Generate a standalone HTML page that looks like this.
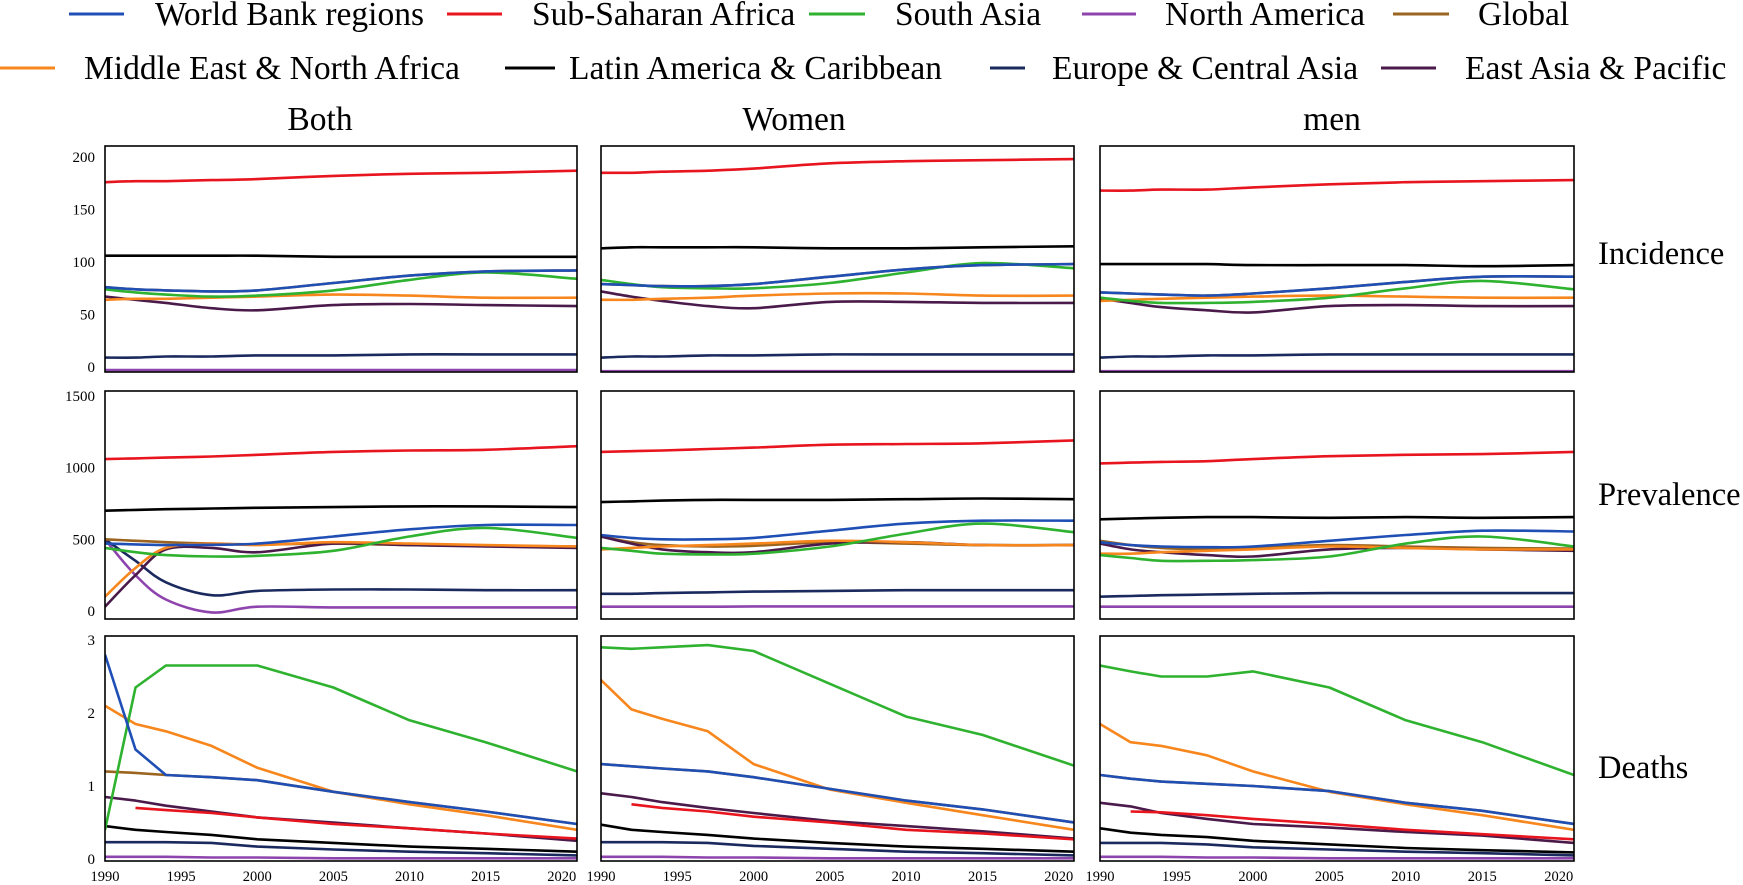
<!DOCTYPE html>
<html><head><meta charset="utf-8"><style>
body{margin:0;background:#fff;}
svg{display:block;font-family:"Liberation Serif",serif;}
</style></head><body>
<svg id="chart" width="1743" height="885" viewBox="0 0 1743 885"></svg>
<script>
const years = [1990,1992,1994,1997,2000,2005,2010,2015,2021];
const seriesKeys = ["WB","SSA","SAS","NAM","GLB","MENA","LAC","ECA","EAP"];
const seriesLabels = ["World Bank regions","Sub-Saharan Africa","South Asia","North America","Global","Middle East & North Africa","Latin America & Caribbean","Europe & Central Asia","East Asia & Pacific"];
const sexLabels = ["Both","Women","men"];
const measureLabels = ["Incidence","Prevalence","Deaths"];
const incTicks = [0,50,100,150,200];
const prevTicks = [0,500,1000,1500];
const deathTicks = [0,1,2,3];
const xTicks = [1990,1995,2000,2005,2010,2015,2020];

const incBoth = {
 SSA:[176,177,177,178,179,182,184,185,187], LAC:[106,106,106,106,106,105,105,105,105],
 WB:[76,74,73,72,73,80,87,91,92], SAS:[74,71,69,67,68,73,83,90,84],
 MENA:[64,65,65,66,67,69,68,66,66], EAP:[67,64,61,56,54,59,60,59,58],
 GLB:[76,74,73,72,73,80,87,91,92], ECA:[9,9,10,10,11,11,12,12,12], NAM:[-3,-3,-3,-3,-3,-3,-3,-3,-3]};
const incWomen = {
 SSA:[185,185,186,187,189,194,196,197,198], LAC:[113,114,114,114,114,113,113,114,115],
 WB:[79,78,77,77,79,86,93,97,98], SAS:[83,79,76,75,75,80,90,99,94],
 MENA:[64,64,65,66,68,70,70,68,68], EAP:[72,67,63,58,56,62,62,61,61],
 GLB:[79,78,77,77,79,86,93,97,98], ECA:[9,10,10,11,11,12,12,12,12], NAM:[-4,-4,-4,-4,-4,-4,-4,-4,-4]};
const incMen = {
 SSA:[168,168,169,169,171,174,176,177,178], LAC:[98,98,98,98,97,97,97,96,97],
 WB:[71,70,69,68,70,75,81,86,86], SAS:[66,63,61,61,62,66,75,82,74],
 MENA:[63,64,65,66,67,68,67,66,66], EAP:[65,61,57,54,52,58,59,58,58],
 GLB:[71,70,69,68,70,75,81,86,86], ECA:[9,10,10,11,11,12,12,12,12], NAM:[-4,-4,-4,-4,-4,-4,-4,-4,-4]};
const prevBoth = {
 SSA:[1060,1065,1070,1078,1090,1110,1120,1125,1150], LAC:[700,705,710,715,720,725,730,730,725],
 WB:[470,465,460,462,470,520,570,600,600], SAS:[440,410,390,380,385,420,520,580,510],
 MENA:[100,300,440,470,460,480,470,460,450], EAP:[30,250,430,440,410,470,460,450,440],
 GLB:[500,490,480,470,465,470,460,455,450], ECA:[500,350,200,110,140,150,150,145,145],
 NAM:[500,250,80,-10,30,25,25,25,25]};
const prevWomen = {
 SSA:[1110,1115,1120,1130,1140,1160,1165,1170,1190], LAC:[760,765,770,775,775,775,780,785,780],
 WB:[530,510,500,500,510,560,610,630,630], SAS:[440,420,400,395,400,450,540,610,550],
 MENA:[430,440,450,460,470,490,480,460,460], EAP:[520,470,430,410,410,470,480,460,460],
 GLB:[520,480,460,450,455,480,470,460,460], ECA:[120,120,125,130,135,140,145,145,145],
 NAM:[30,30,30,30,32,32,32,32,32]};
const prevMen = {
 SSA:[1030,1035,1040,1045,1060,1080,1090,1095,1110], LAC:[640,645,650,655,655,650,655,650,655],
 WB:[480,460,450,445,450,490,530,560,555], SAS:[390,370,350,350,355,380,470,520,450],
 MENA:[400,400,410,420,430,450,440,430,430], EAP:[470,430,410,390,380,430,440,430,420],
 GLB:[490,460,440,430,440,460,450,440,435], ECA:[100,105,110,115,120,125,125,125,125],
 NAM:[30,30,30,30,30,30,30,30,30]};
const deathBoth = {
 SAS:[0.4,2.35,2.65,2.65,2.65,2.35,1.9,1.6,1.2], WB:[2.8,1.5,1.15,1.12,1.08,0.92,0.78,0.65,0.48],
 GLB:[1.2,1.18,1.15,1.12,1.08,0.92,0.78,0.65,0.48], MENA:[2.1,1.85,1.75,1.55,1.25,0.92,0.75,0.6,0.4],
 EAP:[0.85,0.8,0.73,0.65,0.57,0.5,0.42,0.35,0.25], SSA:[null,0.7,0.67,0.63,0.57,0.48,0.42,0.35,0.28],
 LAC:[0.45,0.4,0.37,0.33,0.27,0.22,0.17,0.14,0.1], ECA:[0.23,0.23,0.23,0.22,0.17,0.13,0.1,0.08,0.05],
 NAM:[0.03,0.03,0.03,0.02,0.02,0.01,0.01,0.01,0.01]};
const deathWomen = {
 SAS:[2.9,2.88,2.9,2.93,2.85,2.4,1.95,1.7,1.28], WB:[1.3,1.27,1.24,1.2,1.12,0.96,0.8,0.68,0.5],
 GLB:[1.3,1.27,1.24,1.2,1.12,0.96,0.8,0.68,0.5], MENA:[2.45,2.05,1.92,1.75,1.3,0.95,0.77,0.6,0.4],
 EAP:[0.9,0.85,0.78,0.7,0.63,0.52,0.45,0.38,0.28], SSA:[null,0.75,0.7,0.65,0.58,0.5,0.4,0.35,0.27],
 LAC:[0.47,0.4,0.37,0.33,0.28,0.22,0.17,0.14,0.1], ECA:[0.23,0.23,0.23,0.22,0.18,0.14,0.1,0.08,0.05],
 NAM:[0.03,0.03,0.03,0.02,0.02,0.01,0.01,0.01,0.01]};
const deathMen = {
 SAS:[2.65,2.57,2.5,2.5,2.57,2.35,1.9,1.6,1.15], WB:[1.15,1.1,1.06,1.03,1.0,0.93,0.77,0.66,0.48],
 GLB:[1.15,1.1,1.06,1.03,1.0,0.93,0.77,0.66,0.48], MENA:[1.85,1.6,1.55,1.42,1.2,0.92,0.75,0.6,0.4],
 EAP:[0.77,0.72,0.63,0.55,0.48,0.43,0.37,0.32,0.22], SSA:[null,0.65,0.64,0.6,0.55,0.48,0.4,0.34,0.27],
 LAC:[0.42,0.36,0.33,0.3,0.25,0.2,0.15,0.12,0.09], ECA:[0.22,0.22,0.22,0.2,0.16,0.13,0.1,0.08,0.05],
 NAM:[0.03,0.03,0.03,0.02,0.02,0.01,0.01,0.01,0.01]};

const colors = {WB:"#1f4fb5",SSA:"#e8141e",SAS:"#2fb22f",NAM:"#8e44ad",GLB:"#9b6420",MENA:"#f7861d",LAC:"#000000",ECA:"#1b2a5e",EAP:"#4a1a4a"};
const drawOrder = ["NAM","ECA","LAC","GLB","EAP","MENA","SSA","SAS","WB"];
const colX = [[105,577],[601,1074],[1100,1574]];
const rowY = [[146,372],[391,619],[636,861]];
const yMaps = [ [0,367,200,157], [0,611,1500,396], [0,859,3,640] ];
const tickSets = [incTicks, prevTicks, deathTicks];
const grid = [[incBoth,incWomen,incMen],[prevBoth,prevWomen,prevMen],[deathBoth,deathWomen,deathMen]];

const NS = "http://www.w3.org/2000/svg";
const svg = document.getElementById("chart");
function mk(tag, attrs, parent){ const e=document.createElementNS(NS,tag); for(const k in attrs) e.setAttribute(k,attrs[k]); (parent||svg).appendChild(e); return e; }

// [lineX1, lineX2, textX, lineY, baselineY]
const legPos = [[69,124,155,14,25],[447,502,532,14,25],[809,865,895,14,25],[1082,1136,1165,14,25],[1393,1449,1478,14,25],
                [0,55,84,68,79],[505,555,569,68,79],[990,1025,1052,68,79],[1381,1436,1465,68,79]];
const legend = mk("g",{});


seriesKeys.forEach((k,i)=>{
  const p = legPos[i];
  const g = mk("g",{},legend);
  
  
  mk("line",{x1:p[0],x2:p[1],y1:p[3],y2:p[3],stroke:colors[k],"stroke-width":3},g);
  const t = mk("text",{x:p[2],y:p[4],"font-size":33.5,fill:"#000"},g);
  t.textContent = seriesLabels[i];
});

const titleX = [320,794,1332];
sexLabels.forEach((s,i)=>{
  const t = mk("text",{x:titleX[i],y:130,"font-size":33.5,"text-anchor":"middle"});
  
  
  t.textContent = s;
});
const rowLabelY = [253,494,767];
measureLabels.forEach((m,i)=>{
  const t = mk("text",{x:1598,y:rowLabelY[i]+11,"font-size":32.5});
  
  
  t.textContent = m;
});

function smoothPath(pts, linear){
  let d="";
  for(let i=0;i<pts.length;i++){
    const p=pts[i];
    if(i===0){ d+="M"+p[0].toFixed(1)+","+p[1].toFixed(1); continue; }
    if(linear){ d+="L"+p[0].toFixed(1)+","+p[1].toFixed(1); continue; }
    const p0=pts[i-2]||pts[i-1], p1=pts[i-1], p3=pts[i+1]||p;
    const c1=[p1[0]+(p[0]-p0[0])/6, p1[1]+(p[1]-p0[1])/6];
    const c2=[p[0]-(p3[0]-p1[0])/6, p[1]-(p3[1]-p1[1])/6];
    d+="C"+c1[0].toFixed(1)+","+c1[1].toFixed(1)+" "+c2[0].toFixed(1)+","+c2[1].toFixed(1)+" "+p[0].toFixed(1)+","+p[1].toFixed(1);
  }
  return d;
}

for(let r=0;r<3;r++){
  const ym = yMaps[r];
  const yS = v => ym[1] + (v-ym[0])*(ym[3]-ym[1])/(ym[2]-ym[0]);
  for(let c=0;c<3;c++){
    const [x0,x1] = colX[c], [y0,y1] = rowY[r];
    const xS = yr => x0 + (yr-1990)*(x1-x0)/31;
    const g = mk("g",{});
    
    
    const cid = "clip"+r+c;
    const cp = mk("clipPath",{id:cid},g);
    mk("rect",{x:x0,y:y0,width:x1-x0,height:y1-y0},cp);
    const lines = mk("g",{"clip-path":"url(#"+cid+")"},g);
    const data = grid[r][c];
    drawOrder.forEach(k=>{
      const vals = data[k];
      const pts=[];
      vals.forEach((v,i)=>{ if(v!==null) pts.push([xS(years[i]), yS(v)]); });
      const p = mk("path",{d:smoothPath(pts, r===2),fill:"none",stroke:colors[k],"stroke-width":2.6,"stroke-linejoin":"round"},lines);
      
      
    });
    const fr = mk("rect",{x:x0,y:y0,width:x1-x0,height:y1-y0,fill:"none",stroke:"#000","stroke-width":1.6},g);
    
    
    if(c===0){
      tickSets[r].forEach(tv=>{
        const t = mk("text",{x:95,y:yS(tv)+5,"font-size":15,"text-anchor":"end"},g);
        
        
        t.textContent = tv;
      });
    }
    if(r===2){
      xTicks.forEach(tv=>{
        const t = mk("text",{x:xS(tv),y:881,"font-size":14.5,"text-anchor":"middle"},g);
        
        
        t.textContent = tv;
      });
    }
  }
}
</script>
</body></html>
